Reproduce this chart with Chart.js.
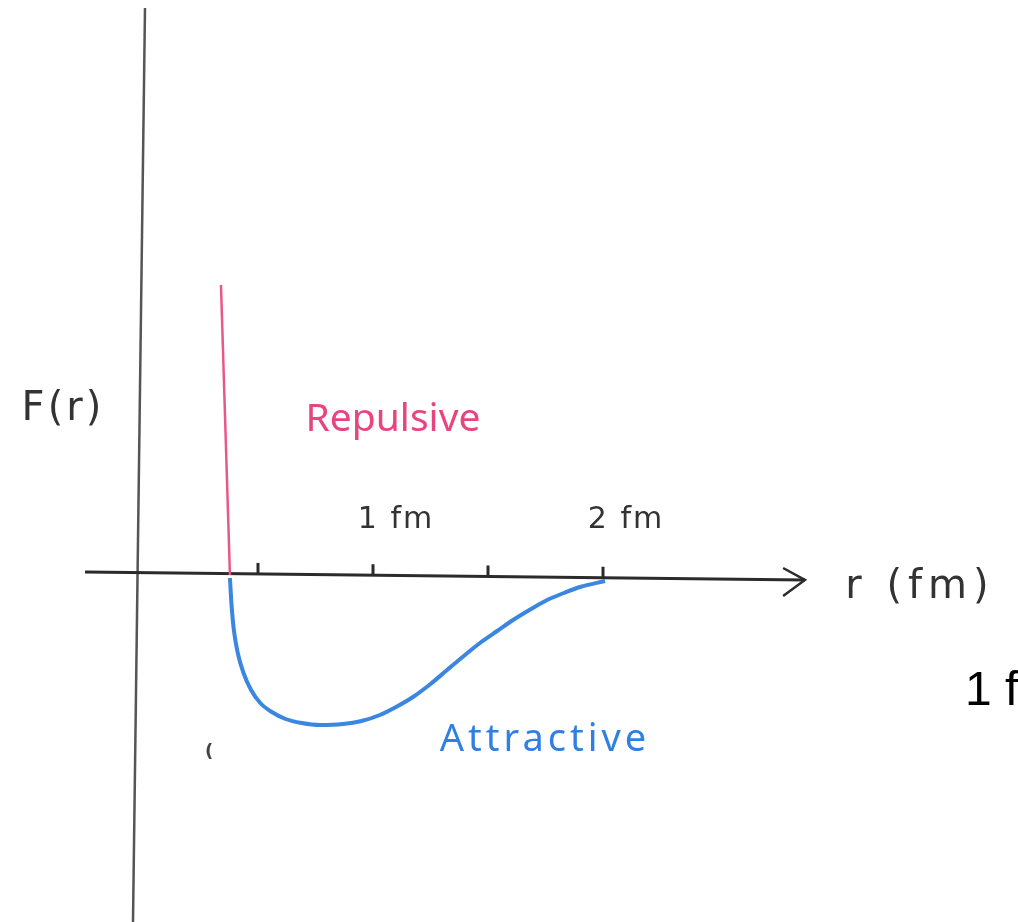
<!DOCTYPE html>
<html>
<head>
<meta charset="utf-8">
<script src="https://cdn.jsdelivr.net/npm/chart.js@4.4.1/dist/chart.umd.min.js"></script>
<style>
  html, body { margin: 0; padding: 0; background: #fff; }
  #wrap { width: 1018px; height: 922px; }
</style>
</head>
<body>
<div id="wrap"><canvas id="myChart" width="1018" height="922"></canvas></div>
<script>
// r in fm, F(r) in arbitrary units
const attractR = [0.378, 0.385, 0.395, 0.412, 0.437, 0.470, 0.510, 0.560, 0.620, 0.690, 0.770, 0.870, 0.950, 1.030, 1.100, 1.174, 1.250, 1.322, 1.400, 1.465, 1.540, 1.609, 1.680, 1.757, 1.830, 1.900, 2.009];
const attractF = [-0.03, -0.30, -0.55, -0.78, -0.98, -1.15, -1.28, -1.37, -1.44, -1.48, -1.50, -1.49, -1.46, -1.40, -1.32, -1.22, -1.09, -0.95, -0.80, -0.68, -0.56, -0.45, -0.35, -0.25, -0.18, -0.12, -0.06];

const repulseR = [0.339, 0.378];
const repulseF = [2.90, 0.0];

// hand drawn axes
const xAxisR = [-0.252, 2.878];
const xAxisF = [0.03, -0.05];
const arrowR = [2.783, 2.878, 2.783];
const arrowF = [0.07, -0.05, -0.21];
const yAxisR = [0.0087, -0.0435];
const yAxisF = [5.67, -3.47];

const tickValues = [0.5, 1, 1.5, 2];
const tickLabels = ["1 fm", "2 fm"];
const tickLabelValues = [1, 2];

const toPoints = (xs, ys) => xs.map((x, i) => ({ x: x, y: ys[i] }));

const line = (label, xs, ys, color, width, extra) => Object.assign({
  label: label,
  data: toPoints(xs, ys),
  showLine: true,
  borderColor: color,
  borderWidth: width,
  pointRadius: 0,
  fill: false,
  tension: 0,
}, extra || {});

const sketchText = {
  id: "sketchText",
  afterDatasetsDraw(chart) {
    const ctx = chart.ctx;
    const xs = chart.scales.x;
    const ys = chart.scales.y;
    const px = (v) => xs.getPixelForValue(v);
    const py = (v) => ys.getPixelForValue(v);

    // small ticks on r axis
    ctx.save();
    ctx.strokeStyle = "#2b2b2b";
    ctx.lineWidth = 3;
    tickValues.forEach((v) => {
      const t = (v - xAxisR[0]) / (xAxisR[1] - xAxisR[0]);
      const yv = xAxisF[0] + t * (xAxisF[1] - xAxisF[0]);
      ctx.beginPath();
      ctx.moveTo(px(v), py(yv));
      ctx.lineTo(px(v), py(yv) - 11);
      ctx.stroke();
    });

    const put = (txt, x, y, font, color, align, spacing) => {
      ctx.font = font;
      ctx.fillStyle = color;
      ctx.textAlign = align || "center";
      ctx.textBaseline = "middle";
      ctx.letterSpacing = spacing || "0px";
      ctx.fillText(txt, x, y);
    };

    tickLabelValues.forEach((v, i) => {
      put(tickLabels[i], px(v) + 23, py(0.55), "30px 'DejaVu Sans'", "#333", "center", "2px");
    });

    put("F(r)", px(-0.348), py(1.65), "40px 'DejaVu Sans'", "#333", "center", "3px");
    put("r (fm)", px(3.378), py(-0.13), "40px 'DejaVu Sans'", "#333", "center", "6px");
    put("Repulsive", px(1.087), py(1.55), "39px 'Noto Sans'", "#e8457f", "center", "0px");
    put("Attractive", px(1.748), py(-1.65), "38px 'Noto Sans'", "#2f80e4", "center", "4px");
    put("(", px(0.287), py(-1.77), "bold 18px 'DejaVu Sans'", "#444", "center", "0px");
    put("1 f", px(3.574), py(-1.17), "48px 'Liberation Sans'", "#000", "left", "0px");
    ctx.restore();
  },
};

const config = {
  type: "scatter",
  data: {
    datasets: [
      line("Attractive", attractR, attractF, "#3a86e0", 4, { cubicInterpolationMode: "monotone" }),
      line("Repulsive", repulseR, repulseF, "#e8578a", 2.5),
      line("r axis", xAxisR, xAxisF, "#2b2b2b", 3),
      line("arrow", arrowR, arrowF, "#2b2b2b", 2.5),
      line("F axis", yAxisR, yAxisF, "#555", 2.5),
    ],
  },
  options: {
    responsive: false,
    animation: false,
    layout: { padding: 0 },
    plugins: {
      legend: { display: false },
      tooltip: { enabled: false },
    },
    scales: {
      x: { type: "linear", display: false, min: -0.6217, max: 3.8043 },
      y: { type: "linear", display: false, min: -3.47, max: 5.75 },
    },
  },
  plugins: [sketchText],
};

const ctx = document.getElementById("myChart").getContext("2d");
var chartExist = Chart.getChart("myChart");
if (chartExist != undefined) {
  chartExist.destroy();
}
new Chart(ctx, config);
</script>
</body>
</html>
